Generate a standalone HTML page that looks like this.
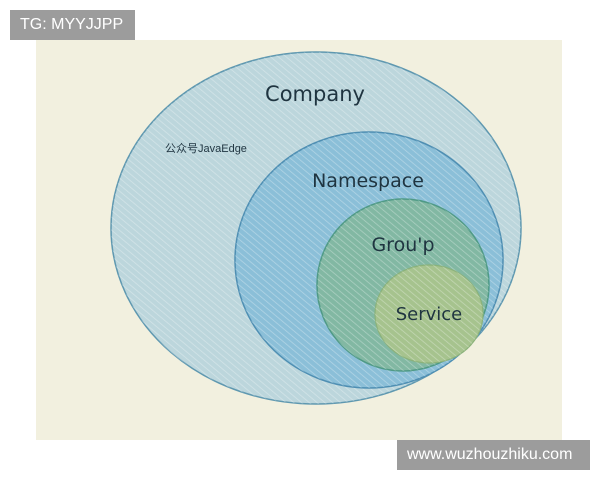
<!DOCTYPE html>
<html><head><meta charset="utf-8"><style>
html,body{margin:0;padding:0;background:#fff;width:600px;height:480px;overflow:hidden}
.tag{position:absolute;background:#9c9c9c;color:#fff;font-family:"Liberation Sans",sans-serif;font-size:16px;line-height:30px;padding:0 10px}
</style></head><body>
<svg width="600" height="480" style="position:absolute;left:0;top:0">
<defs>
<pattern id="h" width="5" height="5" patternUnits="userSpaceOnUse" patternTransform="rotate(-50)">
<line x1="0" y1="0" x2="0" y2="5" stroke="#ffffff" stroke-opacity="0.35" stroke-width="1.5"/>
</pattern>
</defs>
<rect x="36" y="40" width="526" height="400" fill="#f2f0df"/>
<ellipse cx="316" cy="228" rx="205" ry="176" fill="#bcd6dc" stroke="#5f98b0" stroke-width="1.5"/>
<ellipse cx="316" cy="228" rx="205" ry="176" fill="url(#h)"/>
<ellipse cx="369" cy="260" rx="134" ry="128" fill="#8bbfd8" stroke="#4f8fb3" stroke-width="1.5"/>
<ellipse cx="369" cy="260" rx="134" ry="128" fill="url(#h)"/>
<ellipse cx="403" cy="285" rx="86" ry="86" fill="#82b8a3" stroke="#4f9a86" stroke-width="1.5"/>
<ellipse cx="403" cy="285" rx="86" ry="86" fill="url(#h)"/>
<ellipse cx="429" cy="314" rx="54" ry="49" fill="#a6c38e" stroke="#8bb27a" stroke-width="1.2"/>
<ellipse cx="429" cy="314" rx="54" ry="49" fill="url(#h)"/>
<g font-family="'DejaVu Sans','Liberation Sans',sans-serif" fill="#1f3440">
<text x="315" y="101" font-size="21" text-anchor="middle">Company</text>
<text x="368" y="187" font-size="19" text-anchor="middle">Namespace</text>
<text x="403" y="251" font-size="19" text-anchor="middle">Grou'p</text>
<text x="429" y="320" font-size="18" text-anchor="middle">Service</text>
<text x="165" y="152" font-size="11" font-family="'Liberation Sans','Noto Sans CJK SC',sans-serif">公众号JavaEdge</text>
</g>
</svg>
<div class="tag" style="left:10px;top:10px;width:105px">TG: MYYJJPP</div>
<div class="tag" style="left:397px;top:440px;width:173px">www.wuzhouzhiku.com</div>
</body></html>
